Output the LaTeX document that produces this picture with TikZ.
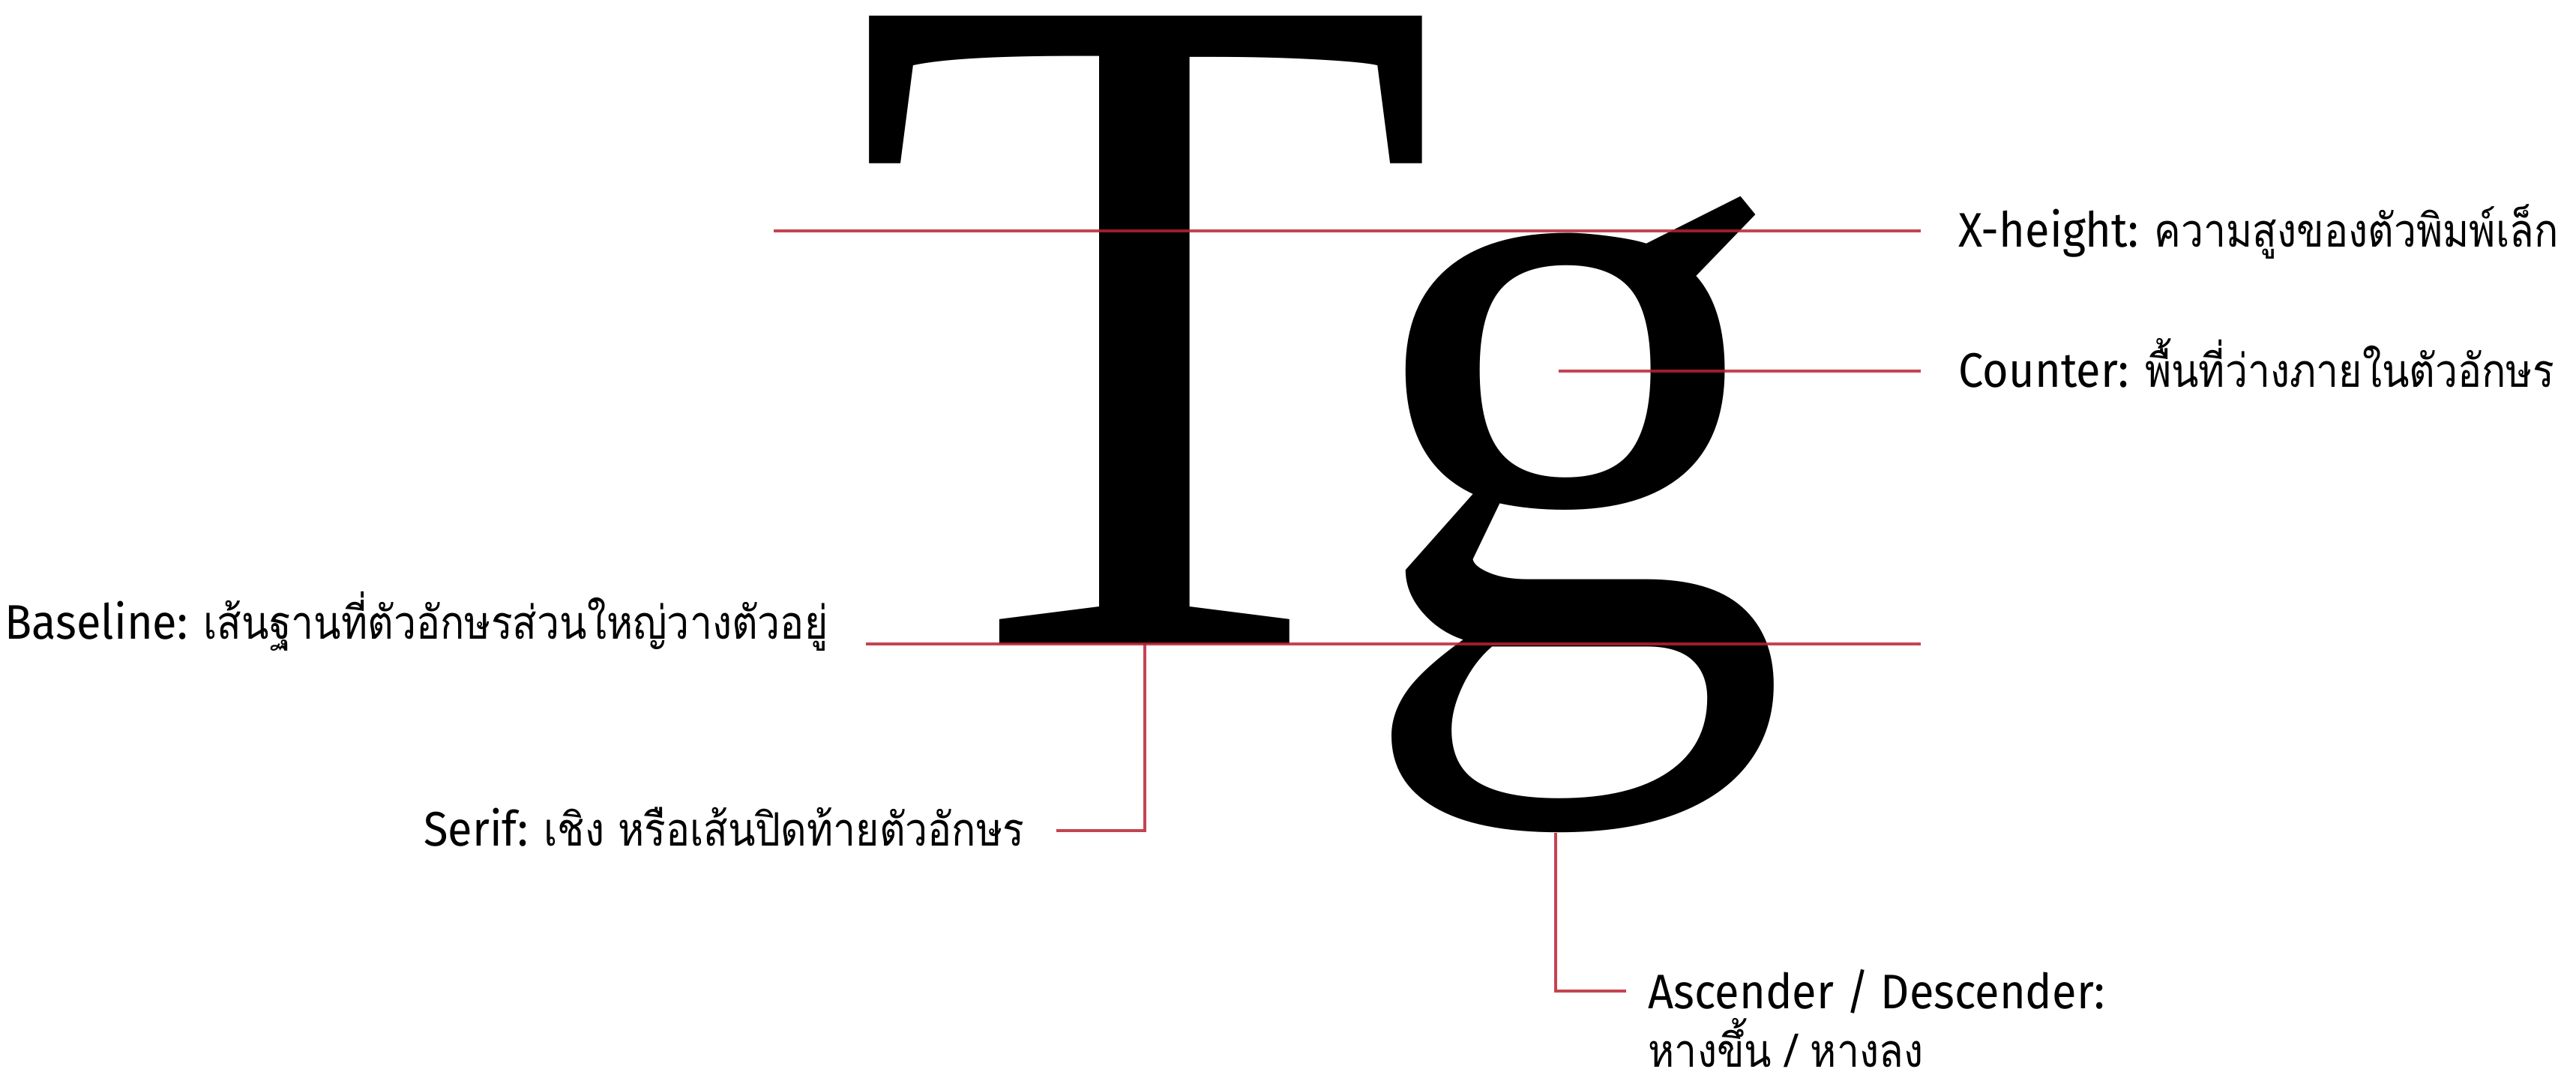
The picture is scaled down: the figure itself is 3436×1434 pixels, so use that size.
\documentclass[tikz,border=0pt]{standalone}
\usepackage{fontspec}
\setmainfont[FakeStretch=0.92]{Fira Sans}
\newfontfamily\thaifont[Script=Thai, Scale=0.95, FakeStretch=0.87]{Loma}
\newfontfamily\glyphfont{Liberation Serif}
\usetikzlibrary{positioning, calc}
\definecolor{guidered}{RGB}{185,35,50}
\newcommand{\thai}[1]{{\thaifont #1}}

\begin{document}
\begin{tikzpicture}[
    x=0.01cm, y=-0.01cm,
    glyph/.style={inner sep=0pt, text=black},
    lbl/.style={inner sep=0pt, font=\fontsize{18.4}{22}\selectfont},
    guide/.style={draw=guidered, line width=1.1pt, opacity=0.85}
]
    \useasboundingbox (0,0) rectangle (3436,1434);

    % Letters
    \node[glyph, font={\glyphfont\fontsize{364}{364}\selectfont}, anchor=base] (T) at (1527,859) {T};
    \node[glyph, font={\glyphfont\fontsize{331}{331}\selectfont}, anchor=base west] (g) at (1806,859) {g};

    % Labels
    \node[lbl, anchor=base west] (xhlbl) at (2612,330) {X-height: \thai{ความสูงของตัวพิมพ์เล็ก}};
    \node[lbl, anchor=base west] (ctrlbl) at (2612,517) {Counter: \thai{พื้นที่ว่างภายในตัวอักษร}};
    \node[lbl, anchor=base east] (bllbl) at (1105,852) {Baseline: \thai{เส้นฐานที่ตัวอักษรส่วนใหญ่วางตัวอยู่}};
    \node[lbl, anchor=base east] (srflbl) at (1367,1128) {Serif: \thai{เชิง หรือเส้นปิดท้ายตัวอักษร}};
    \node[lbl, anchor=base west, align=left] (desclbl) at (2198,1423) {Ascender / Descender:\\\thai{หางขึ้น / หางลง}};

    % Guide lines
    \coordinate (xhA) at (1032,308);
    \coordinate (ctrA) at (2079,495);
    \coordinate (blB) at (2562,859);
    \coordinate (serifA) at (1527,859);
    \coordinate (serifB) at (1409,1108);
    \coordinate (descX) at (2075,0);
    \coordinate (descB) at (2169,1322);

    \draw[guide, shorten >=0.5cm] (xhA) -- (xhA -| xhlbl.west);
    \draw[guide, shorten >=0.5cm] (ctrA) -- (ctrA -| ctrlbl.west);
    \draw[guide, shorten <=0.5cm] (blB -| bllbl.east) -- (blB);
    \draw[guide] (serifA) |- (serifB);
    \draw[guide] (g.south -| descX) |- (descB);

\end{tikzpicture}
\end{document}
